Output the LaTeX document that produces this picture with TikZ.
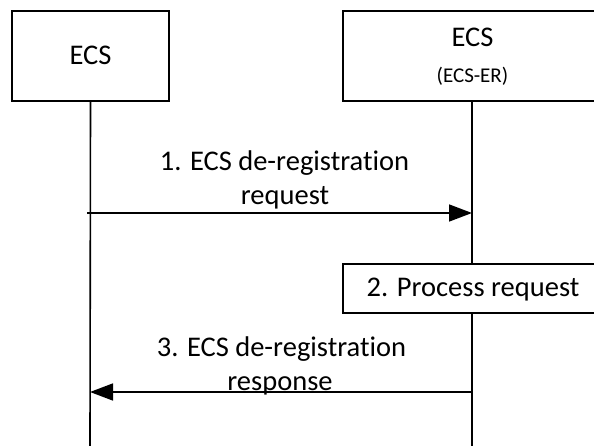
\documentclass[tikz,border=0pt]{standalone}
\usepackage{fontspec}
\setmainfont[Ligatures={NoCommon,NoRare,NoContextual}]{Carlito}
\usetikzlibrary{arrows.meta}
\begin{document}
\begin{tikzpicture}[x=1pt,y=-1pt,
  box/.style={draw,line width=1.6pt,inner sep=0pt},
  lbl/.style={anchor=base,inner sep=0pt,font=\fontsize{28.5}{34}\selectfont},
  sml/.style={anchor=base,inner sep=0pt,font=\fontsize{21}{25}\selectfont},
  life/.style={line width=1.6pt},
  msg/.style={line width=1.6pt,-{Triangle[length=23pt 0,width=17pt 0]}}]
\useasboundingbox (0,0) rectangle (594,446);
\clip (0,0) rectangle (594,446);
% boxes
\node[box,minimum width=157pt,minimum height=90pt] (ecsL) at (90.5,56) {};
\node[box,minimum width=258pt,minimum height=90pt] (ecsR) at (472,56) {};
\node[box,minimum width=258pt,minimum height=49pt] (proc) at (472,288.5) {};
% box texts
\node[lbl] (tL) at (90.5,65) {ECS};
\node[lbl] (tR) at (472.5,47) {ECS};
\node[sml] (tR2) at (472.5,83) {(ECS-ER)};
\node[lbl] (tP) at (473,296.7) {2. Process request};
% lifeline coordinates
\coordinate (Lbot) at (90,446);
\coordinate (Rbot) at (472,446);
\coordinate (a1s) at (87,213);
\coordinate (a1e) at (472,213);
\coordinate (a2s) at (472,392);
\coordinate (a2e) at (90,392);
% lifelines
\draw[life] (ecsL.south) -- (Lbot);
\draw[life] (ecsR.south) -- (proc.north);
\draw[life] (proc.south) -- (Rbot);
% messages
\draw[msg] (a1s) -- (a1e);
\draw[msg] (a2s) -- (a2e);
% message labels
\node[lbl] (m1a) at (284.5,170.7) {1. ECS de-registration};
\node[lbl] (m1b) at (285,205) {request};
\node[lbl] (m3a) at (281.5,356) {3. ECS de-registration};
\node[lbl] (m3b) at (280,390.7) {response};
\end{tikzpicture}
\end{document}
